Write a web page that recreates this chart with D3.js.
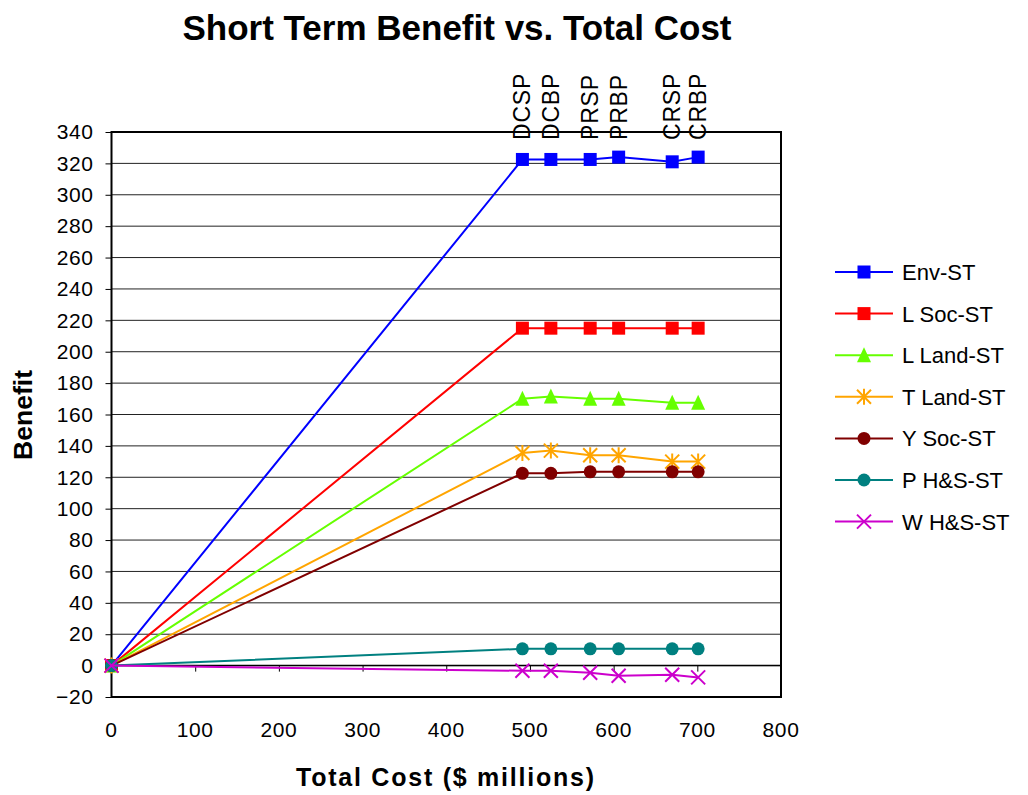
<!DOCTYPE html>
<html><head><meta charset="utf-8">
<script src="https://cdn.jsdelivr.net/npm/d3@7"></script>
<style>body{margin:0;background:#fff}svg text{font-family:"Liberation Sans",Arial,sans-serif}</style>
</head><body><svg id="c" width="1028" height="795"></svg>
<script>
const cost = [0, 491, 525, 572, 606, 670, 701];
const pointLabels = ["", "DCSP", "DCBP", "PRSP", "PRBP", "CRSP", "CRBP"];
const envST = [0, 322.5, 322.5, 322.5, 324, 321, 324];
const lSocST = [0, 215, 215, 215, 215, 215, 215];
const lLandST = [0, 170, 171.5, 170, 170, 167.5, 167.5];
const tLandST = [0, 135.5, 137, 134, 134, 130, 130];
const ySocST = [0, 122.5, 122.5, 123.5, 123.5, 123.5, 123.5];
const pHSST = [0, 10.7, 10.7, 10.7, 10.7, 10.7, 10.7];
const wHSST = [0, -3.3, -3.3, -4.6, -6.5, -5.8, -7.5];
const seriesNames = ["Env-ST", "L Soc-ST", "L Land-ST", "T Land-ST", "Y Soc-ST", "P H&S-ST", "W H&S-ST"];
const yTicks = d3.range(-20, 341, 20);
const xTicks = d3.range(0, 801, 100);

const series = [
  {name: seriesNames[0], values: envST, color: "#0000FF", marker: "square"},
  {name: seriesNames[1], values: lSocST, color: "#FF0000", marker: "square"},
  {name: seriesNames[2], values: lLandST, color: "#66FF00", marker: "triangle"},
  {name: seriesNames[3], values: tLandST, color: "#FFA500", marker: "star"},
  {name: seriesNames[4], values: ySocST, color: "#800000", marker: "circle"},
  {name: seriesNames[5], values: pHSST, color: "#008080", marker: "circle"},
  {name: seriesNames[6], values: wHSST, color: "#CC00CC", marker: "x"}
];

const svg = d3.select("#c");
const L = 111.5, R = 781, T = 132, B = 697;
const x = d3.scaleLinear().domain([0, 800]).range([L, R]);
const y = d3.scaleLinear().domain([-20, 340]).range([B, T]);

// title
svg.append("text").attr("x", 457).attr("y", 40).attr("text-anchor", "middle")
  .attr("font-size", 35).attr("font-weight", "bold").text("Short Term Benefit vs. Total Cost");

// gridlines
svg.append("g").selectAll("line").data(yTicks).join("line")
  .attr("x1", L).attr("x2", R).attr("y1", d => y(d)).attr("y2", d => y(d))
  .attr("stroke", "#222").attr("stroke-width", 1);

// y axis
const ya = svg.append("g").attr("transform", `translate(${L},0)`)
  .call(d3.axisLeft(y).tickValues(yTicks).tickSize(6).tickPadding(12).tickFormat(d3.format("d")));
ya.select(".domain").remove();
ya.selectAll("line").attr("stroke", "#000");
ya.selectAll("text").attr("font-size", 21).attr("letter-spacing", 0.6)
  .attr("font-family", "Liberation Sans, Arial, sans-serif").attr("fill", "#000");

// x axis ticks at the zero line, labels at bottom
const xa = svg.append("g").attr("transform", `translate(0,${y(0)})`)
  .call(d3.axisBottom(x).tickValues(xTicks).tickSize(6).tickFormat(""));
xa.select(".domain").remove();
xa.selectAll("line").attr("stroke", "#000");
svg.append("line").attr("x1", L).attr("x2", R).attr("y1", y(0)).attr("y2", y(0)).attr("stroke", "#000").attr("stroke-width", 1.5);
svg.append("g").selectAll("text").data(xTicks).join("text")
  .attr("x", d => x(d)).attr("y", 737).attr("text-anchor", "middle").attr("font-size", 21)
  .attr("letter-spacing", 0.6).text(d => d);

// plot border
svg.append("rect").attr("x", L).attr("y", T).attr("width", R - L).attr("height", B - T)
  .attr("fill", "none").attr("stroke", "#000").attr("stroke-width", 2);

// axis titles
svg.append("text").attr("transform", `translate(32,415) rotate(-90)`).attr("text-anchor", "middle")
  .attr("font-size", 26).attr("font-weight", "bold").attr("textLength", 90).attr("lengthAdjust", "spacingAndGlyphs").text("Benefit");
svg.append("text").attr("x", 445).attr("y", 786).attr("text-anchor", "middle")
  .attr("font-size", 25).attr("font-weight", "bold").attr("textLength", 298).attr("lengthAdjust", "spacing").text("Total Cost ($ millions)");

// point labels on top
svg.append("g").selectAll("text").data(cost.map((c, i) => ({c, t: pointLabels[i]})).filter(d => d.t))
  .join("text").attr("transform", d => `translate(${x(d.c) + 8},140) rotate(-90)`)
  .attr("font-size", 23).attr("letter-spacing", 0.8).text(d => d.t);

function drawMarker(g, type, color) {
  if (type === "square") g.append("rect").attr("x", -6.5).attr("y", -6.5).attr("width", 13).attr("height", 13).attr("fill", color);
  else if (type === "circle") g.append("circle").attr("r", 6.5).attr("fill", color);
  else if (type === "triangle") g.append("path").attr("d", "M0,-8L7,7L-7,7Z").attr("fill", color);
  else if (type === "star") g.append("path").attr("d", "M0,-8V8M-7,-7L7,7M-7,7L7,-7").attr("stroke", color).attr("stroke-width", 2).attr("fill", "none");
  else if (type === "x") g.append("path").attr("d", "M-7,-7L7,7M-7,7L7,-7").attr("stroke", color).attr("stroke-width", 2).attr("fill", "none");
}

const line = d3.line().x((d, i) => x(cost[i])).y(d => y(d));
series.forEach(s => {
  svg.append("path").datum(s.values).attr("d", line).attr("fill", "none").attr("stroke", s.color).attr("stroke-width", 2);
  s.values.forEach((v, i) => {
    const g = svg.append("g").attr("transform", `translate(${x(cost[i])},${y(v)})`);
    drawMarker(g, s.marker, s.color);
  });
});

// legend
const lg = svg.append("g");
series.forEach((s, i) => {
  const yy = 272 + i * 41.6;
  lg.append("line").attr("x1", 835).attr("x2", 893).attr("y1", yy).attr("y2", yy).attr("stroke", s.color).attr("stroke-width", 2);
  const g = lg.append("g").attr("transform", `translate(864,${yy})`);
  drawMarker(g, s.marker, s.color);
  lg.append("text").attr("x", 902).attr("y", yy + 8).attr("font-size", 22).text(s.name);
});
</script></body></html>
